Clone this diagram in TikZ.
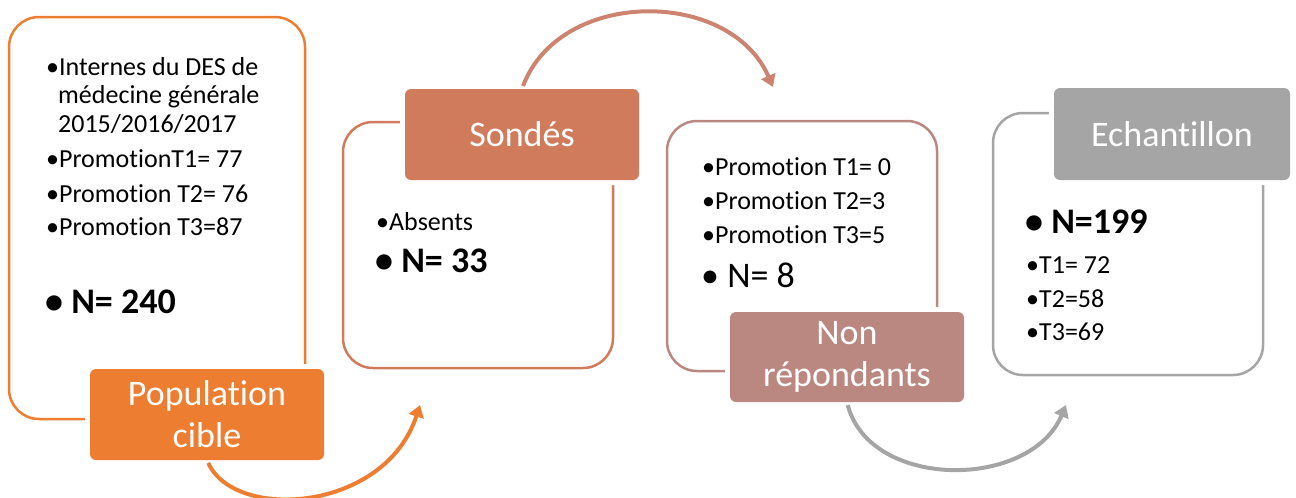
\documentclass[tikz,border=0pt]{standalone}
\usepackage{fontspec}
\setmainfont{Carlito}[Ligatures={NoCommon,NoContextual,NoRare}]
\usetikzlibrary{arrows.meta}
\definecolor{popc}{HTML}{ED7D31}
\definecolor{sondc}{HTML}{D17B5D}
\definecolor{sondarr}{HTML}{CC8470}
\definecolor{nonc}{HTML}{BA8880}
\definecolor{echc}{HTML}{A5A5A5}
\tikzset{
  panel/.style={draw=#1, line width=2.5pt, rounded corners=30pt, inner sep=0pt},
  headbox/.style={fill=#1, preaction={draw=white, line width=10pt}, rounded corners=6pt,
    text=white, align=center, inner sep=0pt, font=\fontsize{36}{42}\selectfont},
  item/.style={anchor=base west, inner sep=0pt, font=\fontsize{26}{28}\selectfont},
  bigitem/.style={item, font=\fontsize{36}{40}\selectfont},
  flow/.style={draw=#1, line width=4pt, shorten <=3pt, -{Triangle[length=12pt,width=15pt]}}
}
\begin{document}
\begin{tikzpicture}[x=1pt, y=-1pt]
  \useasboundingbox (0,0) rectangle (1296,498);
  % frames
  \node[panel=popc, minimum width=296, minimum height=402] (popbox) at (157,218) {};
  \node[panel=sondc, minimum width=270, minimum height=246] (sondbox) at (478,245) {};
  \node[panel=nonc, minimum width=270, minimum height=250] (nonbox) at (802,246) {};
  \node[panel=echc, minimum width=270, minimum height=262] (echbox) at (1128,244) {};
  % titles
  \node[headbox=popc, minimum width=234, minimum height=91] (pop) at (207,414.5) {Population\\cible};
  \node[headbox=sondc, minimum width=234, minimum height=91] (sond) at (522,134.5) {Sondés};
  \node[headbox=nonc, minimum width=234, minimum height=90] (non) at (847,357) {Non\\répondants};
  \node[headbox=echc, minimum width=236, minimum height=92] (ech) at (1172,134) {Echantillon};
  % population cible
  \node[item] (p1) at (46,75) {•Internes du DES de};
  \node[item] (p2) at (58,103) {médecine générale};
  \node[item] (p3) at (58,132) {2015/2016/2017};
  \node[item] (p4) at (46,167) {•PromotionT1= 77};
  \node[item] (p5) at (46,202) {•Promotion T2= 76};
  \node[item] (p6) at (46,235) {•Promotion T3=87};
  \node[bigitem] (p7) at (45,313) {\bfseries • N= 240};
  % sondes
  \node[item] (s1) at (376,230) {•Absents};
  \node[bigitem] (s2) at (375,272) {\bfseries • N= 33};
  % non repondants
  \node[item] (n1) at (702,175) {•Promotion T1= 0};
  \node[item] (n2) at (702,209) {•Promotion T2=3};
  \node[item] (n3) at (702,243) {•Promotion T3=5};
  \node[bigitem] (n4) at (701,287) {• N= 8};
  % echantillon
  \node[bigitem] (e1) at (1025,233) {\bfseries • N=199};
  \node[item] (e2) at (1026,273) {•T1= 72};
  \node[item] (e3) at (1026,307) {•T2=58};
  \node[item] (e4) at (1026,340) {•T3=69};
  % arrows
  \coordinate (t1) at (420,405);
  \coordinate (t2) at (773,87);
  \coordinate (t3) at (1066,405);
  \draw[flow=popc] (pop.south) .. controls (235,522) and (385,512) .. (t1);
  \draw[flow=sondarr] (sond.north) .. controls (560,-12) and (730,-12) .. (t2);
  \draw[flow=echc] (non.south) .. controls (870,490) and (1030,490) .. (t3);
\end{tikzpicture}
\end{document}
